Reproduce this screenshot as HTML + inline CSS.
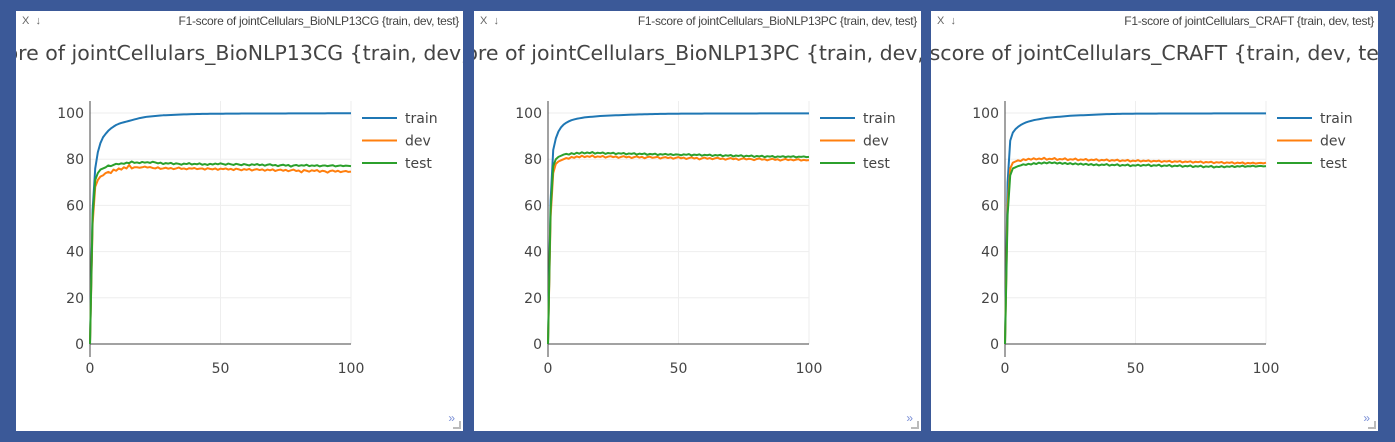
<!DOCTYPE html>
<html><head><meta charset="utf-8">
<style>
body{margin:0;width:1395px;height:442px;background:#3b5998;overflow:hidden;font-family:"Liberation Sans",sans-serif;}
.panel{position:absolute;top:11px;width:447px;height:420px;background:#fff;overflow:hidden;}
.bar{position:absolute;top:4px;left:6px;font-size:11px;color:#666;}
.ptitle{position:absolute;top:3px;right:4px;font-size:12px;color:#444;white-space:nowrap;letter-spacing:-0.3px;}
.corner{position:absolute;right:8px;bottom:6px;font-size:12px;color:#7a8fd6;}
.grip{position:absolute;right:2px;bottom:2px;width:6px;height:6px;border-right:2px solid #bbb;border-bottom:2px solid #bbb;}
svg{position:absolute;left:0;top:0;font-family:"DejaVu Sans",sans-serif;}
</style></head><body>
<div class="panel" id="p1" style="left:16px">
 <div class="bar">X &nbsp;↓</div>
 <div class="ptitle">F1-score of jointCellulars_BioNLP13CG {train, dev, test}</div>
 <div class="corner">»</div><div class="grip"></div>
</div>
<div class="panel" id="p2" style="left:474px">
 <div class="bar">X &nbsp;↓</div>
 <div class="ptitle">F1-score of jointCellulars_BioNLP13PC {train, dev, test}</div>
 <div class="corner">»</div><div class="grip"></div>
</div>
<div class="panel" id="p3" style="left:931px">
 <div class="bar">X &nbsp;↓</div>
 <div class="ptitle">F1-score of jointCellulars_CRAFT {train, dev, test}</div>
 <div class="corner">»</div><div class="grip"></div>
</div>
<script>
const yTicks=[0,20,40,60,80,100];
const xTicks=[0,50,100];
const seriesNames=["train","dev","test"];
const seriesColors=["#1f77b4","#ff7f0e","#2ca02c"];
const titles=["F1-score of jointCellulars_BioNLP13CG {train, dev, test}","F1-score of jointCellulars_BioNLP13PC {train, dev, test}","F1-score of jointCellulars_CRAFT {train, dev, test}"];
const p1Train=[0,58,76,83,87,89.5,91,92.3,93.3,94.1,94.8,95.3,95.7,96,96.3,96.6,96.9,97.2,97.5,97.8,98,98.2,98.4,98.5,98.6,98.7,98.8,98.9,99,99.05,99.1,99.15,99.2,99.25,99.3,99.35,99.4,99.4,99.45,99.5,99.5,99.55,99.55,99.6,99.6,99.6,99.65,99.65,99.7,99.7,99.7,99.7,99.72,99.72,99.74,99.74,99.75,99.75,99.76,99.76,99.77,99.77,99.77,99.78,99.78,99.78,99.79,99.79,99.79,99.8,99.8,99.8,99.8,99.81,99.81,99.81,99.82,99.82,99.82,99.83,99.83,99.83,99.84,99.84,99.84,99.85,99.85,99.85,99.86,99.86,99.86,99.87,99.87,99.87,99.88,99.88,99.88,99.89,99.89,99.9,99.9];
const p1Dev=[0,52,68,71,72.5,73,74,74.5,74,75.5,75,76,75.5,76.5,76,77.5,76,76.5,76.5,76.3,76.5,76.8,76.4,76.6,76.2,76,76.5,75.8,76,76.3,75.9,76.2,75.7,76,76.4,75.8,76,75.6,76.1,75.9,76.2,75.7,75.9,76,75.5,76.1,75.8,75.6,76,75.4,75.9,75.7,76,75.5,75.8,75.3,75.9,75.6,75.2,75.7,75.4,75.8,75.1,75.5,75.7,75.3,75.6,75,75.5,75.2,75.6,74.9,75.3,75.5,75,75.4,74.8,75.2,75.5,74.9,75.1,74.3,75.3,75,74.6,75.2,74.9,75.3,74.5,75,74.8,74.2,74.9,75.1,74.6,75,74.4,74.7,74.9,74.5,74.6];
const p1Test=[0,55,71,74,75.5,76,76.5,77.3,77,77.5,78,77.8,78.2,78,78.5,78.3,79,78.4,78.6,78.3,78.8,78.5,78.7,78.4,78.9,78.6,78.2,78.5,77.9,78.3,78.1,78.4,77.8,78.2,78,77.6,78.1,77.9,78.3,77.7,78,77.8,78.2,77.6,77.9,77.5,78,77.7,78.1,77.8,78.2,77.9,77.6,78.1,77.8,77.5,78,77.7,77.4,77.9,77.6,77.3,77.8,77.5,77.9,77.4,77.7,77.2,77.6,77.8,77.3,77.5,77,77.4,77.6,77.2,77.5,76.8,77.3,77.5,77.1,77.4,77.2,77.6,77,77.3,77.1,77.4,76.9,77.2,77.3,77,77.2,77.4,76.9,77.1,77.3,77,77.2,77.1,77];
const p2Train=[0,62,84,89,92,93.8,95,95.8,96.4,96.9,97.2,97.5,97.7,97.9,98.1,98.2,98.3,98.4,98.5,98.6,98.7,98.75,98.8,98.85,98.9,98.95,99,99.05,99.1,99.15,99.2,99.25,99.3,99.3,99.35,99.4,99.4,99.45,99.45,99.5,99.5,99.55,99.55,99.6,99.6,99.6,99.65,99.65,99.7,99.7,99.7,99.72,99.72,99.73,99.73,99.74,99.74,99.75,99.75,99.75,99.76,99.76,99.76,99.77,99.77,99.77,99.78,99.78,99.78,99.78,99.79,99.79,99.79,99.8,99.8,99.8,99.8,99.81,99.81,99.81,99.81,99.82,99.82,99.82,99.82,99.83,99.83,99.83,99.83,99.84,99.84,99.84,99.84,99.85,99.85,99.85,99.85,99.85,99.85,99.85,99.85];
const p2Dev=[0,55,74,78,79,79.5,80,80.5,80.2,81,80.6,81.2,80.8,81.5,80.9,81.3,81,81.6,80.8,81.2,81,81.4,80.7,81.1,81.3,80.9,81.2,80.6,81,81.3,80.8,81.1,80.5,80.9,81.2,80.7,81,80.4,80.9,81.1,80.6,80.8,81,80.3,80.7,80.9,80.5,80.8,80.2,80.6,80.9,80.4,80.7,80.1,80.5,80.8,80.3,80.6,79.9,80.4,80.7,80.2,80.5,80,80.4,80.6,80.1,80.3,79.8,80.2,80.5,80,80.3,79.7,80.1,80.4,79.9,80.2,80,79.6,80.1,80.3,79.8,80,79.5,79.9,80.2,79.7,80,79.4,79.8,80.1,79.6,79.9,79.5,79.8,80,79.4,79.7,79.5,79.6];
const p2Test=[0,58,77,80,81,81.5,82,82.3,82,82.6,82.2,82.8,82.4,83,82.5,82.9,82.6,83.1,82.4,82.8,82.6,82.9,82.3,82.7,82.5,82.8,82.2,82.6,82.4,82.7,82.1,82.5,82.3,82.6,82,82.4,82.2,82.5,81.9,82.3,82.1,82.4,81.8,82.2,82,82.3,81.9,82.2,81.8,82.1,82,81.7,82.1,81.9,82.2,81.6,82,81.8,82.1,81.5,81.9,81.7,82,81.4,81.8,81.6,81.9,81.3,81.7,81.5,81.8,81.2,81.6,81.4,81.7,81.1,81.5,81.3,81.6,81,81.4,81.2,81.5,80.9,81.3,81.1,81.4,80.8,81.2,81,81.3,80.9,81.2,81,81.3,80.8,81.1,81,81.2,80.9,81];
const p3Train=[0,70,88,91.5,93,94,94.8,95.4,95.9,96.3,96.6,96.9,97.1,97.3,97.5,97.7,97.9,98,98.1,98.2,98.3,98.4,98.5,98.6,98.7,98.8,98.85,98.9,98.95,99,99.05,99.1,99.15,99.2,99.25,99.3,99.35,99.4,99.45,99.5,99.5,99.55,99.55,99.6,99.6,99.65,99.65,99.7,99.7,99.7,99.72,99.72,99.73,99.73,99.74,99.74,99.75,99.75,99.75,99.76,99.76,99.76,99.77,99.77,99.77,99.78,99.78,99.78,99.78,99.79,99.79,99.79,99.8,99.8,99.8,99.8,99.81,99.81,99.81,99.81,99.82,99.82,99.82,99.82,99.83,99.83,99.83,99.83,99.84,99.84,99.84,99.84,99.85,99.85,99.85,99.85,99.85,99.85,99.85,99.85,99.85];
const p3Dev=[0,60,76,78.5,79,79.5,79.2,80,79.6,80.2,79.8,80.4,79.9,80.3,80,80.6,79.8,80.2,80,80.5,79.7,80.1,79.9,80.4,79.6,80,79.8,80.3,79.5,79.9,79.7,80.1,79.4,79.8,79.6,80,79.3,79.7,79.5,79.9,79.2,79.6,79.4,79.8,79.1,79.5,79.3,79.7,79,79.4,79.2,79.6,79,79.4,79.2,79.5,78.9,79.3,79.1,79.4,78.8,79.2,79,79.3,78.7,79.1,78.9,79.2,78.6,79,78.8,79.1,78.5,78.9,78.7,79,78.4,78.8,78.6,78.9,78.3,78.7,78.5,78.8,78.2,78.6,78.4,78.7,78.1,78.5,78.3,78.6,78,78.4,78.2,78.5,78.1,78.3,78.4,78.2,78.5];
const p3Test=[0,56,73,76,76.5,77,77.3,77.8,77.5,78,77.7,78.3,77.9,78.5,78.1,78.6,78.2,78.7,78.3,78.6,78.1,78.5,78,78.4,77.9,78.3,77.8,78.2,77.7,78.1,77.6,78,77.5,77.9,77.4,77.8,77.3,77.7,77.5,77.9,77.2,77.6,77.4,77.8,77.1,77.5,77.3,77.7,77,77.4,77.2,77.6,77.1,77.5,77.3,77.7,77,77.4,77.2,77.6,76.9,77.3,77.1,77.5,76.8,77.2,77,77.4,76.7,77.1,76.9,77.3,76.6,77,76.8,77.2,76.5,76.9,76.7,77.1,76.4,76.8,76.6,77,76.5,76.9,76.7,77.1,76.6,77,76.8,77.2,76.7,77,76.9,77.2,76.8,77,77.1,76.9,77];
const allSeries=[[p1Train,p1Dev,p1Test],[p2Train,p2Dev,p2Test],[p3Train,p3Dev,p3Test]];

const NS="http://www.w3.org/2000/svg";
const X0=74,X1=335,Y0=333,Y1=102;
function sx(v){return X0+(X1-X0)*v/100;}
function sy(v){return Y0-(Y0-Y1)*v/100;}
function mk(t,a,p){const e=document.createElementNS(NS,t);for(const k in a)e.setAttribute(k,a[k]);p.appendChild(e);return e;}
["p1","p2","p3"].forEach((id,pi)=>{
  const panel=document.getElementById(id);
  const svg=mk("svg",{width:447,height:420},panel);
  panel.insertBefore(svg,panel.firstChild);
  const t=mk("text",{x:223,y:49,"text-anchor":"middle","font-size":"20.5",fill:"#444"},svg);
  t.textContent=titles[pi];
  
  
  yTicks.forEach(v=>{
    if(v>0){const g=mk("line",{x1:X0,x2:X1,y1:sy(v),y2:sy(v),stroke:"#eee","stroke-width":1},svg);
      
      }
    const l=mk("text",{x:X0-6,y:sy(v)+5,"text-anchor":"end","font-size":"14",fill:"#444"},svg);
    l.textContent=v;
    
    
  });
  xTicks.forEach(v=>{
    if(v>0){const g=mk("line",{x1:sx(v),x2:sx(v),y1:Y1-12,y2:Y0,stroke:"#eee","stroke-width":1},svg);
      
      }
    const l=mk("text",{x:sx(v),y:Y0+29,"text-anchor":"middle","font-size":"14",fill:"#444"},svg);
    l.textContent=v;
    
    
  });
  const xa=mk("line",{x1:X0,x2:X1,y1:Y0,y2:Y0,stroke:"#444","stroke-width":1},svg);
  
  
  const ya=mk("line",{x1:X0,x2:X0,y1:Y1-12,y2:Y0+13,stroke:"#444","stroke-width":1},svg);
  
  
  allSeries[pi].forEach((s,si)=>{
    const d=s.map((v,i)=>(i?"L":"M")+sx(i).toFixed(2)+","+sy(v).toFixed(2)).join("");
    const p=mk("path",{d:d,fill:"none",stroke:seriesColors[si],"stroke-width":2,"stroke-linejoin":"round"},svg);
    
    
    const ly=107+si*22.5;
    const ll=mk("line",{x1:346,x2:381,y1:ly,y2:ly,stroke:seriesColors[si],"stroke-width":2},svg);
    
    
    const lt=mk("text",{x:389,y:ly+5,"font-size":"14",fill:"#444"},svg);
    lt.textContent=seriesNames[si];
    
    
  });
});
</script>
</body></html>
